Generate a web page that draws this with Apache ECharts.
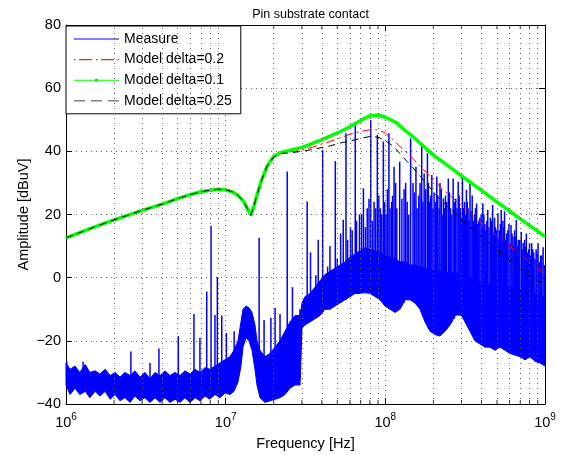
<!DOCTYPE html>
<html><head><meta charset="utf-8">
<script src="https://cdn.jsdelivr.net/npm/echarts@6/dist/echarts.min.js"></script>
<style>html,body{margin:0;padding:0;background:#fff}#c{width:565px;height:455px}</style>
</head><body><div id="c"></div>
<script>
const MHZ = 1e6;
const FONT = 'Liberation Sans, Arial, Helvetica, sans-serif';

// Model curves (frequency in MHz, amplitude in dBuV)
const modelFreq = [1, 1.5, 2, 3, 4, 5, 6, 7, 8, 9, 10, 11, 12, 13, 13.7, 14.4, 15, 15.6, 16.8, 18.1, 19.9, 22, 25, 30, 35, 40, 45, 52, 60, 73, 80, 90, 100, 112, 118, 130, 149, 166, 200, 220, 300, 350, 500, 550, 700, 930, 1000];
const delta01 = [12.6, 16, 18.3, 21.3, 23.3, 25, 26.3, 27.2, 27.7, 28, 27.8, 27.2, 26, 24, 21.8, 19.8, 22.5, 25.6, 30.9, 35.1, 38.3, 39.6, 40.3, 41.2, 42.5, 43.7, 44.8, 46.2, 47.8, 50.3, 51.2, 51.5, 50.8, 49.6, 49, 47, 44.6, 42.5, 38.8, 37.3, 32.2, 29.8, 24, 22.5, 18.6, 14.2, 13];
const delta02 = [12.6, 16, 18.3, 21.3, 23.3, 25, 26.3, 27.2, 27.7, 28, 27.8, 27.2, 26, 24, 21.8, 19.8, 22.5, 25.6, 30.9, 35.1, 38.2, 39.5, 39.8, 40.4, 41.3, 42.3, 43.1, 44.3, 45.4, 46.5, 46.8, 46.8, 45.8, 43.6, 42.5, 40.5, 37.7, 35.1, 31.2, 28.8, 22.8, 19.8, 13.2, 11.6, 7.2, 2.5, 1.2];
const delta025 = [12.6, 16, 18.3, 21.3, 23.3, 25, 26.3, 27.2, 27.7, 28, 27.8, 27.2, 26, 24, 21.8, 19.8, 22.5, 25.6, 30.9, 35.1, 38.1, 39.3, 39.5, 40, 40.6, 41.2, 41.7, 42.6, 43.3, 44.3, 44.7, 44.5, 43.4, 41.6, 40.4, 38, 34.8, 32, 27.2, 24.8, 18.4, 15.5, 9, 7.2, 2.8, -1.3, -2.5];

// Measured noise floor: upper and lower envelope (MHz, dBuV)
const bandFreq = [1.0, 1.06, 1.14, 1.22, 1.32, 1.41, 1.52, 1.63, 1.76, 1.89, 2.03, 2.18, 2.34, 2.52, 2.7, 2.91, 3.12, 3.36, 3.61, 3.88, 4.17, 4.48, 4.82, 5.18, 5.56, 5.98, 6.43, 6.91, 7.42, 7.98, 8.57, 9.22, 9.9, 10.64, 11.27, 11.95, 12.47, 12.84, 13.41, 14.0, 14.62, 15.26, 15.71, 16.41, 17.63, 18.95, 20.37, 21.89, 23.53, 25.29, 27.19, 29.22, 30.07, 31.4, 33.75, 36.26, 38.98, 41.89, 45.03, 48.4, 52.0, 55.9, 60.08, 64.56, 69.4, 74.6, 80.15, 86.2, 92.6, 99.5, 107, 115, 123.5, 132.8, 142.7, 153.4, 164.9, 177.2, 190.4, 204.6, 219.9, 236.4, 254.1, 273.1, 293.5, 315.5, 339, 364.4, 391.6, 421, 452.3, 486.3, 522.5, 561.7, 603.6, 649, 697.3, 749.5, 805.4, 865.9, 930.4, 1000];
const bandHi = [-27, -29, -28, -30, -27.5, -30, -29.5, -30.5, -29, -31, -30, -31.5, -30, -31, -29.5, -31.5, -30, -32, -30, -31, -29.5, -31, -30, -31, -29.5, -30.5, -29, -30, -28.5, -29, -28, -27, -26, -25, -23, -20, -14, -10, -9, -9.5, -11, -15, -20, -23, -25, -24, -22, -20, -17, -14, -12, -12, -8, -6, -5, -3, -1, 1, 2, 3, 4, 5, 6.5, 7.5, 8.5, 9.5, 9, 8.5, 8, 7, 6.5, 6, 5, 5, 4, 4, 3.5, 3, 2.5, 2, 2, 1.5, 1.5, 1.5, 1, 0.5, 0, -1, -1.5, -2, -2, -2.5, -2.5, -3, -3, -3.5, -4, -4, -5, -5, -6, -6];
const bandLo = [-34, -37, -35, -37, -36, -38, -36, -37.5, -36, -38.5, -37, -39, -38, -39.5, -37.5, -39, -38, -39.5, -38, -39.5, -38, -39.5, -38.5, -39.5, -38, -39.5, -38, -39, -37.5, -38.5, -37, -38, -36.5, -37, -36, -33, -28, -22, -19, -20, -23, -29, -34, -38, -39.5, -39, -38.5, -38, -37, -35, -34, -34, -16, -15, -14, -13, -12, -10, -10, -9, -8, -7, -6, -5, -5, -4.5, -5, -6, -7, -9, -10, -11, -10, -7, -7, -8, -10, -14, -17, -18, -18.5, -17, -15, -12, -11, -14, -17, -20, -21, -22, -22, -23, -22, -23, -24, -24.5, -25, -26, -25, -26.5, -27, -28];

// Harmonic / interference spikes (MHz, top dBuV, base dBuV)
const spikeFreq = [1.01, 1.28, 2.55, 3.36, 3.82, 5.05, 6.33, 6.9, 7.61, 8.1, 8.57, 8.87, 9.45, 10.1, 11.3, 16.2, 17.4, 19.2, 20.4, 21.9, 24.3, 26.2, 29.2, 32.4, 36.7, 40.5, 43.5, 48.6, 52.5, 54.5, 56.7, 60.5, 64.8, 68.9, 72.9, 77, 81, 85, 89.1, 93, 97.2, 101, 105.3, 109.5, 113.4, 118, 123, 131, 137, 144, 149, 155.5, 162, 169, 175, 183.5, 189, 195.5, 202, 210, 217, 224, 231, 238, 248, 256, 266, 276, 286, 295, 304, 313, 322, 330, 339, 350, 362, 373, 385, 398, 408, 420, 438, 455, 470, 490, 507, 520, 532, 545, 558, 575, 595, 613, 630, 645, 661, 680, 710, 730, 745, 764, 790, 825, 850, 880, 905, 940, 973,
  34, 38, 45, 50, 58, 62, 66, 71, 75, 79, 83, 87, 91, 95, 99, 103, 107, 111, 116, 127, 134, 140, 152, 158, 165, 172, 179, 186, 192, 199, 206, 213, 220, 227, 234, 242, 252, 261, 271, 281, 290, 299, 308, 317, 326, 334, 344, 356, 367, 379, 391, 403, 414, 426, 432, 446, 462, 478, 483, 498, 513, 526, 538, 552, 566, 585, 604, 621, 638, 653, 670, 695, 720, 755, 776, 800, 812, 838, 865, 893, 920, 955, 990];
const spikeTop = [-26.3, -26.6, -23.4, -27, -22.4, -18.5, -11.5, -19, -4.4, 16.4, -11.8, 0.2, -12, -17.5, -17, 12.6, -13.4, -12.7, -9.6, -11.5, 33.6, -3, -10, 24.1, 0.8, 40.4, 3.5, 36.9, 14, 18.3, 45.7, 16, 48.3, 20, 28.3, 22, 49.9, 24, 45.2, 22, 43.1, 20, 45.7, 24, 35.1, 22, 36.7, 28, 24, 44.1, 30, 35.1, 26, 42.5, 33, 39.4, 24, 32.5, 27, 32, 22, 28, 25.1, 26, 31.4, 22, 31.4, 25, 30.4, 22, 32, 24, 27.8, 22, 30.4, 26, 20, 23.5, 18, 20, 23.5, 17, 21.4, 19, 23, 16, 20.4, 15, 21.4, 18, 21, 14, 17, 16.7, 13, 15, 18.3, 12, 14.5, 11, 12, 14, 9, 10.9, 8, 9, 10.9, 7, 9.6,
  8, 12, 10, 6, 12, 15, 18, 20, 16, 25, 18, 22, 26, 20, 24, 28, 22, 26, 30, 25, 30, 20, 27, 22, 30, 24, 28, 30, 26, 22, 24, 26, 30, 20, 22, 24, 27, 20, 24, 22, 26, 19, 22, 20, 24, 18, 21, 18, 22, 17, 19, 16, 20, 15, 18, 16, 18, 14, 19, 15, 13, 17, 12, 16, 12, 15, 11, 14, 10, 13, 10, 12, 9, 10, 8, 11, 7, 9, 6, 8, 5, 7, 4];
const spikeBase = [-34, -34, -36, -36, -36, -36, -36, -36, -36, -36, -36, -36, -35, -35, -34, -36, -36, -36, -36, -36, -35, -34, -32, -12, -12, -10, -10, -8, -8, -7, -7, -6, -5, -5, -5, -5, -5, -5, -6, -6, -7, -8, -9, -9, -10, -10, -10, -8, -7, -7, -7, -8, -9, -10, -12, -14, -15, -16, -16, -17, -17, -17, -17, -16, -15, -14, -13, -12, -12, -12, -12, -13, -14, -15, -16, -17, -19, -19, -20, -20, -21, -21, -21, -21, -21, -22, -22, -21, -21, -22, -22, -22, -23, -23, -23, -23, -24, -24, -24, -24, -25, -25, -25, -25, -25, -26, -26, -26, -26,
  -12, -11, -9, -8, -6, -5, -5, -5, -5, -5, -5, -6, -6, -7, -8, -9, -9, -10, -10, -9, -7, -7, -8, -8, -9, -11, -13, -14, -15, -16, -16, -17, -17, -17, -17, -16, -15, -14, -13, -12, -12, -12, -12, -13, -14, -15, -16, -18, -19, -19, -20, -20, -21, -21, -21, -21, -21, -21, -21, -22, -22, -21, -21, -22, -22, -22, -23, -23, -23, -23, -24, -24, -24, -25, -25, -25, -25, -25, -25, -26, -26, -26, -26];

// Axis ticks
const yTicks = { min: -40, max: 80, step: 20 };
const minorFreq = [2, 3, 4, 5, 6, 7, 8, 9, 20, 30, 40, 50, 60, 70, 80, 90, 200, 300, 400, 500, 600, 700, 800, 900];

const chart = echarts.init(document.getElementById('c'), null, { renderer: 'canvas' });
const gridDot = { type: [1, 4], color: '#666', width: 1 };

const xLabelFmt = v => '{b|10}{s|' + Math.round(Math.log10(v)) + '}';
const corner = 'M0,0h0.02v0.02h-0.02z M44.98,13.98h0.02v0.02h-0.02z ';
const legendItem = (name, path, color) => ({
  name, icon: 'path://' + corner + path,
  itemStyle: { color, borderColor: color, borderWidth: 0, opacity: 1 },
  lineStyle: { color, width: 0, type: 'solid', opacity: 1 }
});

const option = {
  animation: false,
  backgroundColor: '#fff',
  textStyle: { fontFamily: FONT },
  title: {
    text: 'Pin substrate contact', left: 305.5, top: 3, textAlign: 'center',
    textStyle: { fontSize: 12.5, fontWeight: 'normal', color: '#000', fontFamily: FONT }
  },
  grid: { left: 66, right: 20, top: 25, bottom: 51, containLabel: false, outerBoundsMode: 'none' },
  legend: {
    orient: 'vertical', left: 66, top: 26,
    itemWidth: 45, itemHeight: 14, itemGap: 6.6,
    padding: [6, 9, 6, 8],
    borderColor: '#000', borderWidth: 1, backgroundColor: '#fff', borderRadius: 0,
    textStyle: { fontSize: 14, color: '#000', fontFamily: FONT },
    selectedMode: false,
    data: [
      legendItem('Measure', 'M0,6.5h45v1h-45z', '#0000ff'),
      legendItem('Model delta=0.2', 'M0,6.3h1.6v1.4h-1.6z M5,6.3h13v1.4h-13z M22,6.3h1.6v1.4h-1.6z M27,6.3h13v1.4h-13z M43.4,6.3h1.6v1.4h-1.6z', '#ff2020'),
      legendItem('Model delta=0.1', 'M0,6.5h45v1h-45z M21,5.5h3v3h-3z', '#00ff00'),
      legendItem('Model delta=0.25', 'M0,6.2h11v1.6h-11z M17,6.2h11v1.6h-11z M34,6.2h11v1.6h-11z', '#808080')
    ]
  },
  xAxis: [{
    type: 'log', logBase: 10, min: 1e6, max: 1e9, position: 'bottom',
    axisLine: { onZero: false, lineStyle: { color: '#000', width: 1 } },
    axisTick: { inside: true, length: 6, lineStyle: { color: '#000' } },
    splitLine: { show: true, lineStyle: gridDot },
    axisLabel: {
      formatter: xLabelFmt, margin: 8, color: '#000',
      rich: {
        b: { fontSize: 14.5, fontFamily: FONT, color: '#000' },
        s: { fontSize: 10, fontFamily: FONT, color: '#000', padding: [0, 0, 12, 0] }
      }
    },
    name: 'Frequency [Hz]', nameLocation: 'middle', nameGap: 32, nameMoveOverlap: false,
    nameTextStyle: { fontSize: 14.5, color: '#000', fontFamily: FONT }
  }, {
    type: 'log', logBase: 10, min: 1e6, max: 1e9, position: 'top',
    axisLine: { onZero: false, lineStyle: { color: '#000', width: 1 } },
    axisTick: { inside: true, length: 6, lineStyle: { color: '#000' } },
    splitLine: { show: false }, axisLabel: { show: false }
  }],
  yAxis: [{
    type: 'value', min: yTicks.min, max: yTicks.max, interval: yTicks.step,
    axisLine: { show: true, onZero: false, lineStyle: { color: '#000', width: 1 } },
    axisTick: { show: true, inside: true, length: 6, lineStyle: { color: '#000' } },
    splitLine: { show: true, lineStyle: gridDot },
    axisLabel: { fontSize: 14.5, color: '#000', margin: 5, fontFamily: FONT,
      formatter: v => (v < 0 ? '\u2212' + Math.abs(v) : '' + v) },
    name: 'Amplitude [dBuV]', nameLocation: 'middle', nameGap: 35, nameRotate: 90, nameMoveOverlap: false,
    nameTextStyle: { fontSize: 14.5, color: '#000', fontFamily: FONT }
  }, {
    type: 'value', min: yTicks.min, max: yTicks.max, interval: yTicks.step, position: 'right',
    axisLine: { show: true, onZero: false, lineStyle: { color: '#000', width: 1 } },
    axisTick: { show: true, inside: true, length: 6, lineStyle: { color: '#000' } },
    splitLine: { show: false }, axisLabel: { show: false }
  }],
  series: [
    {
      name: 'minorGrid', type: 'line', data: [], silent: true,
      markLine: {
        silent: true, symbol: 'none', label: { show: false }, animation: false,
        lineStyle: gridDot, emphasis: { disabled: true },
        data: minorFreq.map(f => ({ xAxis: f * MHZ }))
      }
    },
    {
      name: 'Measure', type: 'custom', silent: true,
      itemStyle: { color: '#0000ff' },
      data: [[bandFreq[0] * MHZ, bandHi[0]]],
      renderItem: (params, api) => {
        const pts = [];
        for (let i = 0; i < bandFreq.length; i++) pts.push(api.coord([bandFreq[i] * MHZ, bandHi[i]]));
        for (let i = bandFreq.length - 1; i >= 0; i--) pts.push(api.coord([bandFreq[i] * MHZ, bandLo[i]]));
        return { type: 'polygon', shape: { points: pts }, style: { fill: '#0000ff', stroke: '#0000ff', lineWidth: 1 } };
      }
    },
    {
      name: 'Measure', type: 'custom', silent: true,
      itemStyle: { color: '#0000ff' },
      data: spikeFreq.map((f, i) => [f * MHZ, spikeTop[i], spikeBase[i]]),
      encode: { x: 0, y: [1, 2] },
      renderItem: (params, api) => {
        const x = api.value(0);
        const p1 = api.coord([x, api.value(2)]);
        const p2 = api.coord([x, api.value(1)]);
        return { type: 'line', shape: { x1: p1[0], y1: p1[1], x2: p2[0], y2: p2[1] }, style: { stroke: '#0000ff', lineWidth: 1.5 } };
      }
    },
    {
      name: 'Model delta=0.2', type: 'line', symbol: 'none', silent: true,
      data: modelFreq.map((f, i) => [f * MHZ, delta02[i]]),
      lineStyle: { color: '#ff0000', width: 1, type: [9, 4, 2, 4] }, itemStyle: { color: '#ff2020' }
    },
    {
      name: 'Model delta=0.1', type: 'line', symbol: 'none', silent: true,
      data: modelFreq.map((f, i) => [f * MHZ, delta01[i]]),
      lineStyle: { color: '#00ff00', width: 3.5 }, itemStyle: { color: '#00ff00' }
    },
    {
      name: 'Model delta=0.25', type: 'line', symbol: 'none', silent: true,
      data: modelFreq.map((f, i) => [f * MHZ, delta025[i]]),
      lineStyle: { color: '#000', width: 1, type: [7, 5] }, itemStyle: { color: '#808080' }
    },
    {
      name: 'minorTicksBottom', type: 'scatter', silent: true, symbol: 'rect', symbolSize: [1, 4],
      symbolOffset: [0, -2], itemStyle: { color: '#000' },
      data: minorFreq.map(f => [f * MHZ, yTicks.min])
    },
    {
      name: 'minorTicksTop', type: 'scatter', silent: true, symbol: 'rect', symbolSize: [1, 4],
      symbolOffset: [0, 2], itemStyle: { color: '#000' },
      data: minorFreq.map(f => [f * MHZ, yTicks.max])
    }
  ]
};
chart.setOption(option);
</script>
</body></html>
